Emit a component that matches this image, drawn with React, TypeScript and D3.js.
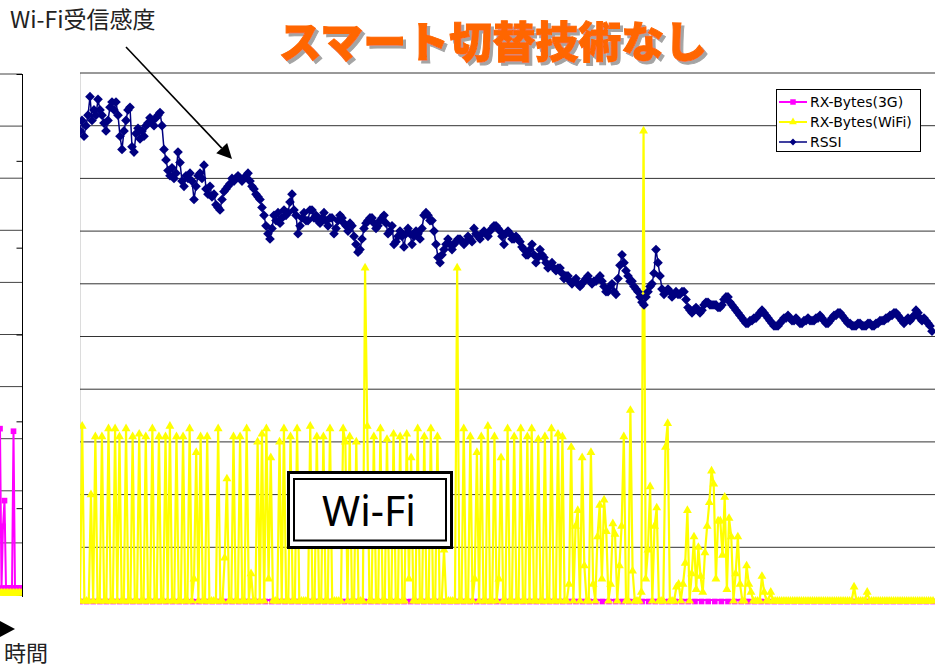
'use client';
import { useEffect, useRef } from 'react';
import * as d3 from 'd3';

// RSSI (Wi-Fi受信感度), one value every ~2px of the time axis
const rssi: number[] = [
  89, 91, 88, 90, 92, 95.5, 91, 93, 92, 95,
  93, 92, 90.5, 89, 91, 93.5, 94.5, 93, 94.5, 92,
  88, 85.5, 89, 91, 93, 93.5, 86, 85, 88.5, 89.5,
  87.5, 89, 88, 90, 90.5, 91.5, 91, 90, 91.5, 92,
  92.5, 90, 85.5, 83.5, 81.5, 80.5, 82, 80, 81, 85,
  83, 79.5, 78.5, 80.5, 80, 81, 79.5, 76, 78.5, 80.5,
  81, 80, 82.5, 78, 77, 78.5, 76.5, 77, 75, 74.5,
  74, 76, 77.5, 78, 78.5, 79, 80, 79.5, 80, 80.5,
  80, 79.5, 80, 80.5, 81, 79.5, 78.5, 78, 77, 76.5,
  76, 74.5, 73, 71, 69.5, 68.5, 70.5, 73, 72, 73.5,
  71.5, 72.5, 74, 73, 73.5, 75.5, 77, 74, 73, 69.5,
  71, 72.5, 73.5, 72, 72, 74, 74, 72.5, 73, 72,
  71.5, 72.5, 73.5, 72, 71, 72.5, 72.5, 69.5, 70.5, 72,
  73, 72.5, 71.5, 71, 70, 71.5, 71, 69, 67.5, 66,
  66.5, 68.5, 70.5, 71.5, 72, 72.5, 72.5, 71.5, 70.5, 71,
  72, 72.5, 73, 71.5, 69.5, 70, 71, 67.5, 68, 69,
  70, 69, 67, 69.5, 70.5, 69.5, 67.5, 69, 70, 69.5,
  68.5, 70.5, 73, 73.5, 73, 72, 72, 70, 67.5, 65,
  64, 65.5, 66.5, 67.5, 68.5, 67.5, 66.5, 67.5, 68, 68.5,
  68.5, 68, 67.5, 68, 69, 68.5, 68, 70.5, 69.5, 69,
  68.5, 69.5, 70, 69.5, 69, 70, 70.5, 71, 71, 70.5,
  70, 69, 67.5, 69.5, 70, 69.5, 68.5, 68.5, 69, 68.5,
  68, 67, 66.5, 65.5, 65.5, 66.5, 67.5, 65.5, 64, 65,
  66.5, 65.5, 65, 64, 63, 63.5, 64, 63, 62.5, 63,
  63, 62, 61, 61.5, 61.5, 60.5, 60, 60.5, 61, 60,
  59.5, 60, 60.5, 61, 61.5, 60.5, 60, 60.5, 60.5, 61,
  61.5, 60.5, 59.5, 58.5, 58.5, 59.5, 60, 58.5, 58, 61,
  63.5, 65.5, 64, 62.5, 61.5, 60.5, 60.5, 59.5, 59, 58.5,
  57.5, 56.5, 56, 57.5, 58.5, 59.5, 60, 62, 66.5, 64,
  61.5, 59, 58, 58.5, 59, 58.5, 57.5, 58, 58.5, 58,
  58, 58.5, 58.5, 57, 55.5, 55, 54.5, 55, 55.5, 55,
  54.5, 55, 56, 56.5, 56.5, 56, 56, 56, 56, 55.5,
  55.5, 56, 57, 57.5, 57.5, 56.5, 56, 55.5, 55, 54.5,
  54, 53.5, 53, 52.5, 52.5, 53, 53, 53.5, 53.5, 54,
  54.5, 55, 54.5, 54, 53.5, 53, 52.5, 52, 52, 52,
  52.5, 53, 53.5, 53.5, 54, 53.5, 53, 53, 53.5, 53,
  52.5, 52.5, 53, 53, 53.5, 53, 53, 53, 53.5, 53.5,
  54, 53.5, 53, 52.5, 52.5, 53, 53.5, 54, 54, 54.5,
  54.5, 54, 53.5, 53, 52.5, 52.5, 52, 52, 52, 52.5,
  52.5, 52, 52, 52, 52.5, 52.5, 52, 52, 52.5, 52.5,
  53, 53, 53, 53.5, 53.5, 54, 54, 54.5, 54.5, 54,
  53.5, 53, 52.5, 53, 53.5, 53, 53.5, 54, 55, 54.5,
  53.5, 53, 53.5, 53, 52.5, 52, 51
];

// RX-Bytes(WiFi), one value every ~2.2px of the time axis
const rxWifi: number[] = [
  0, 33, 0, 0, 0, 20, 0, 31, 0, 0,
  31, 0, 0, 32.5, 0, 0, 32.5, 0, 31, 0,
  0, 32.5, 0, 0, 31, 0, 0, 31.5, 0, 0,
  31, 0, 0, 32.5, 0, 0, 31, 0, 0, 31,
  0, 33, 0, 0, 31, 0, 0, 31, 0, 0,
  32.5, 0, 4, 28, 0, 31, 0, 0, 31, 0,
  0, 0, 0, 32.5, 0, 0, 8, 23, 0, 0,
  31, 0, 0, 31, 0, 0, 32.5, 0, 5, 0,
  0, 30, 0, 31.5, 0, 32.5, 4, 27, 0, 0,
  0, 30, 0, 32.5, 0, 0, 31, 0, 0, 32.5,
  0, 0, 0, 0, 0, 33, 0, 0, 31, 0,
  0, 31, 0, 0, 32.5, 0, 0, 0, 0, 0,
  32.5, 30, 0, 31, 0, 0, 30, 0, 0, 0,
  63, 33, 0, 0, 31, 0, 0, 32.5, 0, 0,
  30.5, 0, 0, 31.5, 0, 0, 31, 0, 0, 31.5,
  4, 27, 0, 0, 32.5, 0, 0, 31, 0, 0,
  32.5, 0, 0, 31, 0, 0, 9.5, 0, 0, 0,
  0, 0, 63, 0, 0, 32.5, 0, 0, 31, 0,
  4, 28, 0, 31, 0, 0, 33, 0, 0, 31,
  0, 4, 27, 0, 0, 32.5, 0, 0, 31, 0,
  0, 32.5, 0, 0, 31, 0, 32.5, 0, 0, 30.5,
  0, 0, 31, 0, 0, 32.5, 0, 0, 31.5, 0,
  31, 0, 0, 3, 29, 0, 14, 17, 0, 27,
  6.5, 0, 0, 28, 3, 0, 12, 18, 4, 19,
  13, 0, 3, 14.5, 12.5, 0, 6.5, 14, 31, 0,
  0, 36, 5.5, 0, 0, 0, 1.5, 89, 4, 9.5,
  21.5, 0, 14, 17.5, 0, 0, 0, 29, 33.5, 0,
  0, 0, 2.5, 3, 0, 3, 7, 17, 0, 5,
  12, 2, 10, 4.5, 1.5, 9, 14, 18.5, 24.5, 22,
  4, 15, 15, 8.5, 19.5, 2, 15.5, 12, 0, 5,
  12, 3, 0, 0, 6.5, 3, 1.5, 0, 0, 0,
  0, 4.5, 1.5, 0, 0, 1.5, 0, 0, 0, 0,
  0, 0, 0, 0, 0, 0, 0, 0, 0, 0,
  0, 0, 0, 0, 0, 0, 0, 0, 0, 0,
  0, 0, 0, 0, 0, 0, 0, 0, 0, 0,
  0, 0, 0, 2.5, 0, 0, 0, 0, 0, 1.5,
  0, 0, 0, 0, 0, 0, 0, 0, 0, 0,
  0, 0, 0, 0, 0, 0, 0, 0, 0, 0,
  0, 0, 0, 0, 0, 0, 0, 0, 0, 0
];

// RX-Bytes(3G), one value every ~6.6px (nothing received on 3G)
const rx3g: number[] = [
  0, 0, 0, 0, 0, 0, 0, 0, 0, 0, 0, 0, 0, 0, 0, 0, 0, 0, 0, 0, 0, 0, 0, 0, 0, 0,
  0, 0, 0, 0, 0, 0, 0, 0, 0, 0, 0, 0, 0, 0, 0, 0, 0, 0, 0, 0, 0, 0, 0, 0, 0, 0,
  0, 0, 0, 0, 0, 0, 0, 0, 0, 0, 0, 0, 0, 0, 0, 0, 0, 0, 0, 0, 0, 0, 0, 0, 0, 0,
  0, 0, 0, 0, 0, 0, 0, 0, 0, 0, 0, 0, 0, 0, 0, 0, 0, 0, 0, 0, 0, 0, 0, 0, 0, 0,
  0, 0, 0, 0, 0, 0, 0, 0, 0, 0, 0, 0, 0, 0, 0, 0, 0, 0, 0, 0, 0, 0, 0, 0, 0, 0
];

// the neighbouring chart, cut off at the left edge
const leftRx3g: number[] = [31, 0, 12, 17, 0, 0, 0, 0, 0, 30.5, 0, 0, 0, 0, 0];
const leftRxWifi: number[] = [0, 0, 0, 0, 0, 0, 0, 0, 0, 0, 0, 0, 0, 0, 0];

const seriesNames = ['RX-Bytes(3G)', 'RX-Bytes(WiFi)', 'RSSI'];
const seriesColors = ['#ff00ff', '#ffff00', '#000080'];
const gridTicks = [0, 10, 20, 30, 40, 50, 60, 70, 80, 90, 100];
const leftAxisTicks = [0, 1, 2, 3, 4, 5, 6];

const titleText = 'スマート切替技術なし';
const noteText = 'Wi-Fi受信感度';
const boxText = 'Wi-Fi';
const timeText = '時間';

export default function App() {
  const svgRef = useRef<SVGSVGElement>(null);

  useEffect(() => {
    if (!svgRef.current) return;

    const svg = d3.select(svgRef.current);
    svg.selectAll('*').remove();

    const width = 935;
    const height = 666;
    const plotLeft = 80;
    const plotRight = 933;
    const plotTop = 73;
    const plotBottom = 600;

    svg.append('rect').attr('width', width).attr('height', height).attr('fill', '#fff');

    const defs = svg.append('defs');
    defs
      .append('filter')
      .attr('id', 'titleShadow')
      .attr('x', '-5%')
      .attr('y', '-20%')
      .attr('width', '110%')
      .attr('height', '140%')
      .append('feDropShadow')
      .attr('dx', 3)
      .attr('dy', 3)
      .attr('stdDeviation', 0.6)
      .attr('flood-color', '#9a9a9a')
      .attr('flood-opacity', 0.9);

    // symbols
    const square = d3.symbol().type(d3.symbolSquare).size(32)();
    const triangle = d3.symbol().type(d3.symbolTriangle).size(34)();
    const diamondType = (d3 as any).symbolDiamond2 ?? d3.symbolDiamond;
    const diamond = d3.symbol().type(diamondType).size(60)();

    // ---------- left (cut-off) chart ----------
    const leftAxisX = 22;
    const leftGridY = d3.scaleLinear().domain([0, 100]).range([595, 74]);
    const leftTickY = d3.scaleLinear().domain([0, 6]).range([595, 74]);
    const left3gY = d3.scaleLinear().domain([0, 100]).range([588, 74]);
    const leftX = d3.scaleLinear().domain([0, leftRx3g.length - 1]).range([0, 21]);

    svg
      .append('g')
      .selectAll('line')
      .data(gridTicks.slice(1))
      .enter()
      .append('line')
      .attr('x1', 0)
      .attr('x2', leftAxisX)
      .attr('y1', (d) => leftGridY(d))
      .attr('y2', (d) => leftGridY(d))
      .attr('stroke', '#444')
      .attr('stroke-width', 1);

    const leftAxis = d3
      .axisLeft(leftTickY)
      .tickValues(leftAxisTicks)
      .tickSize(6)
      .tickFormat(() => '');
    const leftAxisG = svg
      .append('g')
      .attr('transform', `translate(${leftAxisX + 0.5},0)`)
      .call(leftAxis);
    leftAxisG.select('.domain').attr('stroke', '#000').attr('d', `M0,${leftTickY(6)}V${leftTickY(0) + 2}`);
    leftAxisG.selectAll('.tick line').attr('stroke', '#000');

    svg
      .append('clipPath')
      .attr('id', 'leftClip')
      .append('rect')
      .attr('x', 0)
      .attr('y', 60)
      .attr('width', leftAxisX)
      .attr('height', 560);

    const leftG = svg.append('g').attr('clip-path', 'url(#leftClip)');
    const left3gLine = d3
      .line<number>()
      .x((_, i) => leftX(i))
      .y((d) => left3gY(d));
    leftG
      .append('path')
      .attr('d', left3gLine(leftRx3g))
      .attr('fill', 'none')
      .attr('stroke', seriesColors[0])
      .attr('stroke-width', 2);
    leftG
      .selectAll('.l3g')
      .data(leftRx3g)
      .enter()
      .append('path')
      .attr('d', square)
      .attr('transform', (d, i) => `translate(${leftX(i)},${left3gY(d)})`)
      .attr('fill', seriesColors[0]);
    leftG
      .selectAll('.lwifi')
      .data(leftRxWifi)
      .enter()
      .append('path')
      .attr('d', triangle)
      .attr('transform', (d, i) => `translate(${leftX(i)},${leftGridY(d) - 2})`)
      .attr('fill', seriesColors[1]);

    // ---------- main chart ----------
    const y = d3.scaleLinear().domain([0, 100]).range([plotBottom, plotTop]);
    const xWifi = d3.scaleLinear().domain([0, rxWifi.length - 1]).range([plotLeft, plotRight]);
    const xRssi = d3.scaleLinear().domain([0, rssi.length - 1]).range([plotLeft, plotRight - 1]);
    const x3g = d3.scaleLinear().domain([0, rx3g.length - 1]).range([plotLeft, plotRight]);

    // plot area left edge
    svg
      .append('line')
      .attr('x1', plotLeft + 0.5)
      .attr('x2', plotLeft + 0.5)
      .attr('y1', plotTop)
      .attr('y2', plotBottom)
      .attr('stroke', '#dcdcdc');

    // gridlines
    svg
      .append('g')
      .selectAll('line')
      .data(gridTicks)
      .enter()
      .append('line')
      .attr('x1', plotLeft)
      .attr('x2', width)
      .attr('y1', (d) => y(d))
      .attr('y2', (d) => y(d))
      .attr('stroke', '#333')
      .attr('stroke-width', 1);

    svg
      .append('clipPath')
      .attr('id', 'plotClip')
      .append('rect')
      .attr('x', plotLeft)
      .attr('y', 40)
      .attr('width', width - plotLeft)
      .attr('height', 580);

    const plot = svg.append('g').attr('clip-path', 'url(#plotClip)');

    // RX-Bytes(3G)
    const line3g = d3
      .line<number>()
      .x((_, i) => x3g(i))
      .y((d) => y(d));
    plot
      .append('path')
      .attr('d', line3g(rx3g))
      .attr('fill', 'none')
      .attr('stroke', seriesColors[0])
      .attr('stroke-width', 2);
    plot
      .append('g')
      .selectAll('path')
      .data(rx3g)
      .enter()
      .append('path')
      .attr('d', square)
      .attr('transform', (d, i) => `translate(${x3g(i)},${y(d) + 1.5})`)
      .attr('fill', seriesColors[0]);

    // RX-Bytes(WiFi)
    const lineWifi = d3
      .line<number>()
      .x((_, i) => xWifi(i))
      .y((d) => y(d));
    plot
      .append('path')
      .attr('d', lineWifi(rxWifi))
      .attr('fill', 'none')
      .attr('stroke', seriesColors[1])
      .attr('stroke-width', 2.2);
    plot
      .append('g')
      .selectAll('path')
      .data(rxWifi)
      .enter()
      .append('path')
      .attr('d', triangle)
      .attr('transform', (d, i) => `translate(${xWifi(i)},${y(d) + (d === 0 ? 1 : 0)})`)
      .attr('fill', seriesColors[1]);

    // RSSI
    const lineRssi = d3
      .line<number>()
      .x((_, i) => xRssi(i))
      .y((d) => y(d));
    plot
      .append('path')
      .attr('d', lineRssi(rssi))
      .attr('fill', 'none')
      .attr('stroke', seriesColors[2])
      .attr('stroke-width', 1.5);
    plot
      .append('g')
      .selectAll('path')
      .data(rssi)
      .enter()
      .append('path')
      .attr('d', diamond)
      .attr('transform', (d, i) => `translate(${xRssi(i)},${y(d)})`)
      .attr('fill', seriesColors[2]);

    // ---------- legend ----------
    const legend = svg.append('g').attr('transform', 'translate(776,89)');
    legend
      .append('rect')
      .attr('x', 0.5)
      .attr('y', 0.5)
      .attr('width', 144)
      .attr('height', 62)
      .attr('fill', '#fff')
      .attr('stroke', '#000');
    const legendMarkers = [
      d3.symbol().type(d3.symbolSquare).size(30)(),
      d3.symbol().type(d3.symbolTriangle).size(26)(),
      d3.symbol().type(diamondType).size(30)()
    ];
    seriesNames.forEach((name, i) => {
      const ly = 13 + i * 20;
      legend
        .append('line')
        .attr('x1', 3)
        .attr('x2', 31)
        .attr('y1', ly)
        .attr('y2', ly)
        .attr('stroke', seriesColors[i])
        .attr('stroke-width', i === 2 ? 1.5 : 2);
      legend
        .append('path')
        .attr('d', legendMarkers[i])
        .attr('transform', `translate(17,${ly})`)
        .attr('fill', seriesColors[i]);
      legend
        .append('text')
        .attr('x', 34)
        .attr('y', ly + 5)
        .attr('font-family', '"DejaVu Sans", sans-serif')
        .attr('font-size', 14)
        .attr('fill', '#000')
        .text(name);
    });

    // ---------- Wi-Fi box ----------
    const box = svg.append('g');
    box
      .append('rect')
      .attr('x', 288.5)
      .attr('y', 472.5)
      .attr('width', 163)
      .attr('height', 75)
      .attr('fill', '#fff')
      .attr('stroke', '#000')
      .attr('stroke-width', 3);
    box
      .append('rect')
      .attr('x', 294)
      .attr('y', 479)
      .attr('width', 152)
      .attr('height', 61.5)
      .attr('fill', '#fff')
      .attr('stroke', '#000')
      .attr('stroke-width', 2);
    box
      .append('text')
      .attr('x', 369)
      .attr('y', 526)
      .attr('text-anchor', 'middle')
      .attr('font-family', '"Noto Sans", sans-serif')
      .attr('font-size', 41)
      .attr('fill', '#000')
      .text(boxText);

    // ---------- title ----------
    svg
      .append('text')
      .attr('x', 493)
      .attr('y', 58)
      .attr('text-anchor', 'middle')
      .attr('font-family', '"Noto Sans CJK JP", sans-serif')
      .attr('font-weight', 900)
      .attr('font-size', 43)
      .attr('fill', '#ff6600')
      .attr('stroke', '#ff6600')
      .attr('stroke-width', 1)
      .attr('filter', 'url(#titleShadow)')
      .text(titleText);

    // ---------- annotation + arrow ----------
    svg
      .append('text')
      .attr('x', 10)
      .attr('y', 28)
      .attr('font-family', '"Noto Sans CJK JP", sans-serif')
      .attr('font-size', 23)
      .attr('fill', '#222')
      .text(noteText);

    const from: [number, number] = [126, 47];
    const tip: [number, number] = [232, 159];
    const dx = tip[0] - from[0];
    const dy = tip[1] - from[1];
    const len = Math.hypot(dx, dy);
    const ux = dx / len;
    const uy = dy / len;
    const headLen = 15;
    const headHalf = 7.5;
    const bx = tip[0] - ux * headLen;
    const by = tip[1] - uy * headLen;
    svg
      .append('line')
      .attr('x1', from[0])
      .attr('y1', from[1])
      .attr('x2', bx)
      .attr('y2', by)
      .attr('stroke', '#000')
      .attr('stroke-width', 1.6);
    svg
      .append('path')
      .attr(
        'd',
        d3.line()([
          tip,
          [bx - uy * headHalf, by + ux * headHalf],
          [bx + uy * headHalf, by - ux * headHalf]
        ]) + 'Z'
      )
      .attr('fill', '#000');

    // time axis arrow + label
    svg
      .append('path')
      .attr('d', d3.line()([[15, 629], [-2, 620], [-2, 638]]) + 'Z')
      .attr('fill', '#000');
    svg
      .append('text')
      .attr('x', 4)
      .attr('y', 661)
      .attr('font-family', '"Noto Sans CJK JP", sans-serif')
      .attr('font-size', 22)
      .attr('fill', '#222')
      .text(timeText);
  }, []);

  return (
    <svg
      ref={svgRef}
      width={935}
      height={666}
      style={{ position: 'absolute', left: 0, top: 0, display: 'block' }}
    ></svg>
  );
}
